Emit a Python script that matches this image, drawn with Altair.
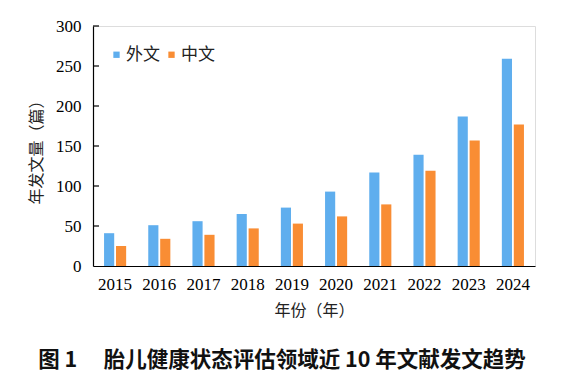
import altair as alt
import pandas as pd

years = ["2015", "2016", "2017", "2018", "2019", "2020", "2021", "2022", "2023", "2024"]
foreign = [41, 51, 56, 65, 73, 93, 117, 139, 187, 259]
chinese = [25, 34, 39, 47, 53, 62, 77, 119, 157, 177]
series = ["外文", "中文"]
y_ticks = [0, 50, 100, 150, 200, 250, 300]
colors = ["#5FAEEE", "#F98D34"]

rows = []
for y, f, c in zip(years, foreign, chinese):
    rows.append({"year": y, "series": series[0], "value": f})
    rows.append({"year": y, "series": series[1], "value": c})
df = pd.DataFrame(rows)
tick_df = pd.DataFrame({"value": y_ticks[1:]})

serif = "Liberation Serif"
cjk = "Noto Sans CJK SC"

y_scale = alt.Scale(domain=[0, 300], nice=False)
y_axis = alt.Axis(title="年发文量（篇）", values=y_ticks, labelFont=serif, labelFontSize=17,
                  labelColor="black", labelPadding=12, labelOverlap=False,
                  ticks=False, tickSize=0,
                  grid=False, domainColor="black", domainWidth=1.2,
                  titleFont=cjk, titleFontSize=16, titleFontWeight="normal",
                  titleColor="#222", titleX=-57, titleY=122, titleAngle=-90,
                  titleAlign="center", titleBaseline="middle")

bars = alt.Chart(df).mark_bar().encode(
    x=alt.X("year:N", sort=years,
            scale=alt.Scale(paddingInner=0.5, paddingOuter=0.25),
            axis=alt.Axis(title="年份（年）", labelAngle=0, labelFont=serif, labelFontSize=17,
                          labelColor="black", labelPadding=10, ticks=False, tickSize=0,
                          domainColor="black", domainWidth=1.2,
                          titleFont=cjk, titleFontSize=16, titleFontWeight="normal",
                          titleColor="#222", titleY=44, titleBaseline="middle")),
    xOffset=alt.XOffset("series:N", sort=series,
                        scale=alt.Scale(domain=series, paddingInner=0.15, paddingOuter=0)),
    y=alt.Y("value:Q", scale=y_scale, axis=y_axis),
    color=alt.Color("series:N", sort=series,
                    scale=alt.Scale(domain=series, range=colors),
                    legend=alt.Legend(title=None, orient="none", legendX=15, legendY=20,
                                      direction="horizontal", symbolType="square",
                                      symbolSize=40, symbolStrokeWidth=0,
                                      labelFont=cjk, labelFontSize=17, labelColor="#222",
                                      labelOffset=1, columnPadding=3, padding=0)),
)

ticks = alt.Chart(tick_df).mark_rule(color="black", strokeWidth=1.2).encode(
    x=alt.value(0), x2=alt.value(6),
    y=alt.Y("value:Q", scale=y_scale, axis=y_axis),
)

chart = alt.layer(bars, ticks).properties(
    width=442, height=240,
    autosize=alt.AutoSizeParams(type="none"),
    padding={"left": 85, "top": 18, "right": 26, "bottom": 110},
    title=alt.TitleParams("图 1　 胎儿健康状态评估领域近 10 年文献发文趋势", orient="bottom",
                          anchor="middle", dx=-32, offset=32, font=cjk, fontSize=21.5,
                          fontWeight="bold", color="#111"),
).configure_view(stroke=None).configure(background="white")

chart.save("out.html", embed_options={"renderer": "svg", "actions": False})
